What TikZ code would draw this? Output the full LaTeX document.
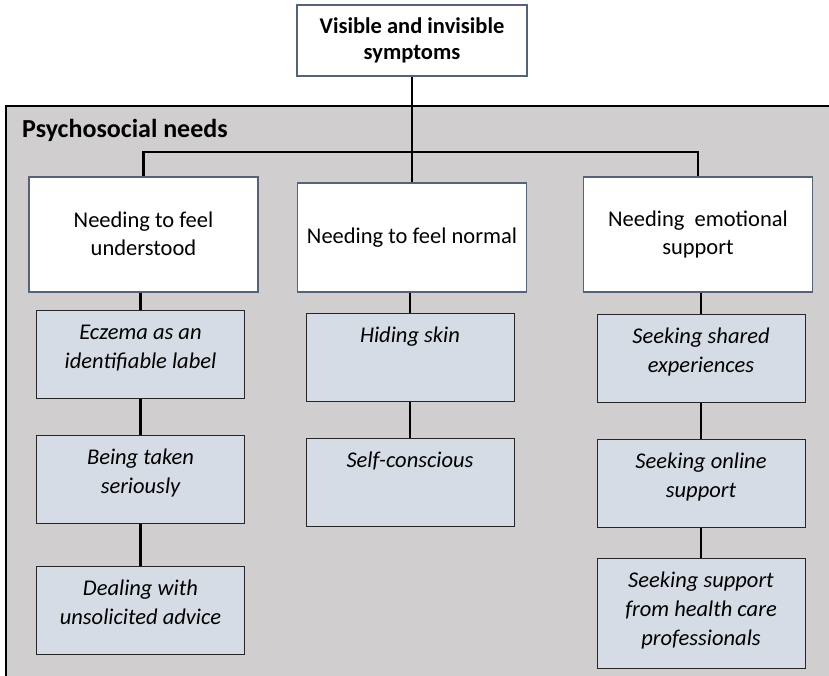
\documentclass[tikz,border=0pt]{standalone}
\usepackage{fontspec}
\setmainfont{Carlito}
\usetikzlibrary{positioning}

\definecolor{panelgray}{HTML}{D0CECE}
\definecolor{subblue}{HTML}{D6DCE5}
\definecolor{slate}{RGB}{84,98,122}

\begin{document}
\begin{tikzpicture}[
	x=1pt, y=-1pt,
	font=\fontsize{22.5}{28}\selectfont,
	node distance=36pt,
	topic/.style={
		draw=slate,
		line width=1.5pt,
		fill=white,
		minimum width=229pt,
		minimum height=115pt,
		align=center,
		anchor=north,
	},
	subtopic/.style={
		draw=black!85,
		line width=1pt,
		fill=subblue,
		minimum width=208pt,
		inner ysep=0pt,
		text height=29pt,
		text depth=59pt,
		align=center,
		font=\fontsize{22.5}{29}\selectfont\itshape,
	},
	twoline/.style={text height=58pt, text depth=30pt},
	threeline/.style={text height=87pt, text depth=23pt},
	link/.style={line width=2.2pt},
]

\clip (0,0) rectangle (829,675);

% Symptomy nahoře
\node[draw=slate, line width=1.5pt, fill=white, minimum width=230pt, minimum height=71pt,
	align=center, font=\fontsize{22.5}{26}\selectfont\bfseries] (sympt) at (412,40.5) {Visible and invisible\\symptoms};

% Šedý panel psychosociálních potřeb -- přesahuje okraj obrázku
\draw[line width=1.5pt, fill=panelgray] (6,106) rectangle (845,690);
\node[anchor=base west, inner sep=0pt, font=\fontsize{26}{30}\selectfont\bfseries] (title) at (22,137) {Psychosocial needs};

% Tři hlavní potřeby
\node[topic] (understood) at (143.5,176) {Needing to feel\\understood};
\node[topic, minimum height=109pt] (normal) at (412,182) {Needing to feel normal};
\node[topic] (emotional) at (698,176) {Needing\ \ emotional\\support};

% Podtémata -- levý sloupec
\node[subtopic, twoline, below=17pt of understood, xshift=-3pt] (eczema) {Eczema as an\\identifiable label};
\node[subtopic, twoline, below=of eczema] (serious) {Being taken\\seriously};
\node[subtopic, twoline, below=42pt of serious] (advice) {Dealing with\\unsolicited advice};

% Podtémata -- prostřední sloupec
\node[subtopic, below=20pt of normal, xshift=-2pt] (hiding) {Hiding skin};
\node[subtopic, below=of hiding] (selfcon) {Self-conscious};

% Podtémata -- pravý sloupec
\node[subtopic, twoline, below=21pt of emotional, xshift=3pt] (shared) {Seeking shared\\experiences};
\node[subtopic, twoline, below=of shared] (online) {Seeking online\\support};
\node[subtopic, threeline, below=30pt of online] (hcp) {Seeking support\\from health care\\professionals};

% Spojnice -- sběrnice pod symptomy
\coordinate (bus) at (412,152);
\draw[link] (sympt.south) -- (normal.north);
\draw[link] (understood.north) |- (bus) -| (emotional.north);

% Spojnice ve sloupcích
\draw[link] (understood.south -| eczema.north) -- (eczema.north);
\draw[link] (eczema) -- (serious);
\draw[link] (serious) -- (advice);
\draw[link] (normal.south -| hiding.north) -- (hiding.north);
\draw[link] (hiding) -- (selfcon);
\draw[link] (emotional.south -| shared.north) -- (shared.north);
\draw[link] (shared) -- (online);
\draw[link] (online) -- (hcp);

\end{tikzpicture}
\end{document}
